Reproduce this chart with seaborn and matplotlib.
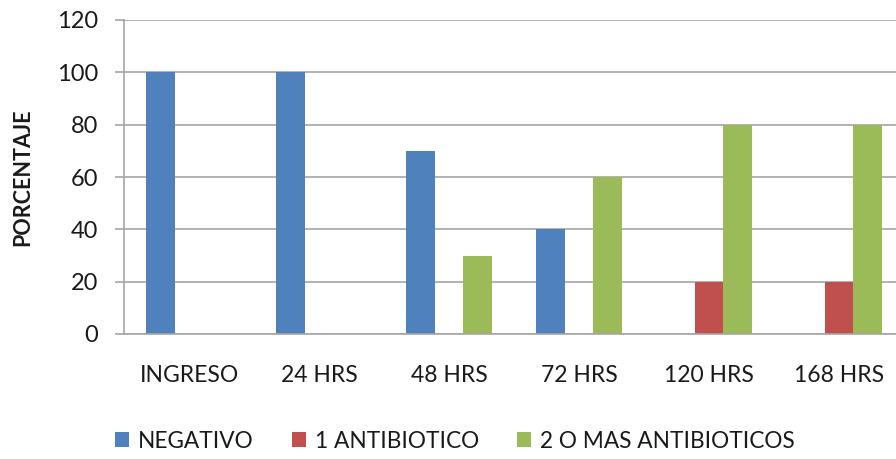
import matplotlib
matplotlib.use("Agg")
import matplotlib.pyplot as plt
import seaborn as sns
import pandas as pd

categories = ["INGRESO", "24 HRS", "48 HRS", "72 HRS", "120 HRS", "168 HRS"]
series_names = ["NEGATIVO", "1 ANTIBIOTICO", "2 O MAS ANTIBIOTICOS"]
negativo = [100, 100, 70, 40, 0, 0]
un_antibiotico = [0, 0, 0, 0, 20, 20]
dos_o_mas = [0, 0, 30, 60, 80, 80]
colors = ["#4F81BD", "#C0504D", "#9BBB59"]
y_ticks = [0, 20, 40, 60, 80, 100, 120]

rows = []
for name, vals in zip(series_names, [negativo, un_antibiotico, dos_o_mas]):
    for c, v in zip(categories, vals):
        rows.append({"cat": c, "serie": name, "val": v})
df = pd.DataFrame(rows)

sns.set_theme(style="white")
plt.rcParams["font.family"] = ["Lato", "DejaVu Sans"]
txt = "#1a1a1a"

W, H = 896, 459
fig = plt.figure(figsize=(W / 100, H / 100), dpi=100)
ax = fig.add_axes([124 / W, 125 / H, 780 / W, 314 / H])

sns.barplot(data=df, x="cat", y="val", hue="serie", order=categories,
            hue_order=series_names, palette=colors, width=0.667,
            linewidth=0, saturation=1, ax=ax)

ax.set_xlim(-0.5, 5.5)
ax.set_ylim(0, 120)
ax.set_yticks(y_ticks)
ax.yaxis.grid(True, color="#A6A6A6", linewidth=1.2)
ax.set_axisbelow(True)
for s in ["top", "right"]:
    ax.spines[s].set_visible(False)
for s in ["left", "bottom"]:
    ax.spines[s].set_color("#A6A6A6")
    ax.spines[s].set_linewidth(1.2)

ax.tick_params(axis="y", length=6.5, width=1.2, color="#A6A6A6", pad=12,
               labelsize=17, labelcolor=txt, left=True)
ax.tick_params(axis="x", length=0, pad=22, labelsize=16.5, labelcolor=txt)
ax.set_xlabel("")
ax.set_ylabel("PORCENTAJE", fontsize=15.5, fontweight="bold", color=txt)
ax.yaxis.set_label_coords(-(124 - 33) / 780, 0.5)

handles, labels = ax.get_legend_handles_labels()
if ax.get_legend() is not None:
    ax.get_legend().remove()
fig.legend(handles, labels, loc="center", bbox_to_anchor=(455 / W, 1 - 441 / H),
           ncol=3, frameon=False, fontsize=16.3, handlelength=0.6,
           handleheight=0.6, handletextpad=0.4, columnspacing=1.7,
           labelcolor=txt)

fig.savefig("out.png", dpi=100)
